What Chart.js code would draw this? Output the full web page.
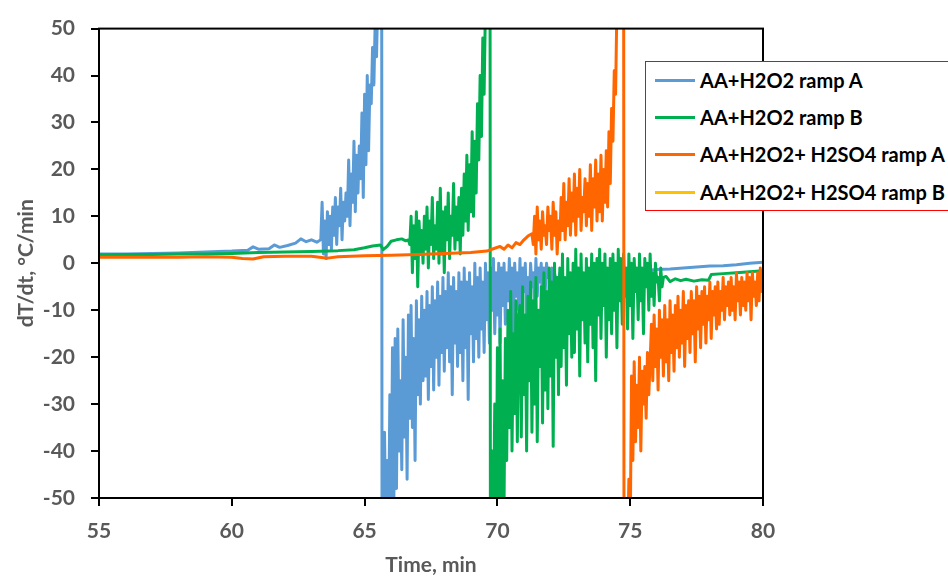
<!DOCTYPE html>
<html>
<head>
<meta charset="utf-8">
<script src="https://cdn.jsdelivr.net/npm/chart.js@4"></script>
<style>
html, body { margin: 0; padding: 0; background: #fff; overflow: hidden; }
#wrap { position: relative; width: 948px; height: 579px; overflow: hidden; }
#legend { position: absolute; left: 645px; top: 61px; width: 330px; height: 148px; border: 1px solid #ff0000; background: #fff; font: bold 20px Lato, sans-serif; color: #000; }
.item { position: absolute; left: 0; height: 24px; line-height: 24px; white-space: nowrap; }
.swatch { position: absolute; left: 9px; top: 10.5px; width: 40px; height: 3px; }
.txt { position: absolute; left: 54px; top: 0; }
</style>
</head>
<body>
<div id="wrap">
  <canvas id="chart" width="948" height="579"></canvas>
  <div id="legend"></div>
</div>
<script>
// sampling interval of the logged noisy parts, min
const TIME_STEP = 0.05;

const seriesNames = ['AA+H2O2 ramp A', 'AA+H2O2 ramp B', 'AA+H2O2+ H2SO4 ramp A', 'AA+H2O2+ H2SO4 ramp B'];
const seriesColors = ['#5B9BD5', '#00B050', '#FF6600', '#FFC000'];
const xTicks = [55, 60, 65, 70, 75, 80];
const yTicks = [-50, -40, -30, -20, -10, 0, 10, 20, 30, 40, 50];

// ramp A (blue)
const blueLead = [[55,2.0],[56,2.0],[57,2.1],[58,2.2],[59,2.4],[60,2.6],[60.6,2.8],[60.8,3.5],[61.0,3.0],[61.4,3.1],[61.6,3.9],[61.8,3.4],[62.1,3.8],[62.4,4.3],[62.6,5.2],[62.8,4.6],[63.0,5.0],[63.2,4.5]];
const blueRiseStart = 63.35;
const blueRise = [5,13,2,9,1,11,4,10,3,12, 6,14,4,12,8,16,5,13,9,15, 10,22,8,19,13,26,11,23,15,25, 18,32,14,36,21,40,24,38, 34,46,38,52,44,58];
const blueJump = [[65.58,75],[65.64,95],[65.66,-95]];
const blueFallStart = 65.70;
const blueFall = [-60,-36,-58,-42,-62,-28,-55,-18,-52,-16,-48,
  -14,-40,-25,-44,-12,-37,-20,-46,-11,-33,
  -9,-35,-16,-42,-8,-28,-12,-30,-7,-25,
  -10,-24,-6,-29,-9,-22,-5,-27,-8,-20,
  -4,-26,-7,-19,-3,-23,-6,-18,-2,-21,
  -5,-28,-3,-17,-6,-22,-2,-19,-4,-25,
  -1,-18,-4,-29,-2,-15,-5,-21,0,-16,
  -3,-20,-1,-14,-4,-19,0,-12,-2,-17,
  -1,-10,1,-15,-2,-11,0,-17,-1,-9,
  0,-13,-2,-8,1,-12,-1,-16,0,-7,
  -2,-10,1,-13,-1,-6,0,-12,-3,-8,
  0,-5,-2,-10,1,-7,-1,-4,0,-9,
  -1,-6,0,-3,-2,-8,-1,-5,-2,-4,
  -3,-5,-2,-4];
const blueTail = [[72.6,-3.3],[72.9,-3.7],[73.2,-3.1],[73.5,-2.9],[73.8,-3.2],[74.1,-2.4],[74.5,-2.2],[75,-2.0],[75.5,-1.6],[76,-1.3],[76.5,-1.2],[77,-1.0],[77.5,-0.8],[78,-0.6],[78.5,-0.5],[79,-0.3],[79.5,0.0],[80,0.2]];

// ramp B (green)
const greenLead = [[55,1.8],[56,1.9],[57,1.9],[58,2.0],[59,2.0],[60,2.1],[61,2.3],[62,2.4],[63,2.5],[64,2.7],[64.6,2.9],[65.0,3.3],[65.3,3.7],[65.6,3.9],[65.7,2.9],[65.85,3.6],[66.0,4.7],[66.2,5.0],[66.4,5.2],[66.55,4.8],[66.65,5.0]];
const greenRiseStart = 66.70;
const greenRise = [4,10,-2,8,1,11,-5,9,2,7, 0,10,3,12,-1,9,4,14,1,8, 3,13,0,16,2,11,-2,12,5,15, 1,10,6,17,3,12,5,14,2,16, 6,19,9,23,7,21,11,28,10,26, 15,34,22,40,27,48,36,55];
const greenJump = [[69.62,75],[69.72,95],[69.74,-95]];
const greenFallStart = 69.75;
const greenFall = [-60,-40,-58,-30,-62,-18,-55,-14,-60,-25,-52,-16,
  -42,-10,-35,-6,-40,-15,-32,-8,-38,-12,
  -9,-37,-5,-28,-11,-40,-7,-25,-4,-36,
  -8,-30,-3,-38,-10,-22,-5,-34,-2,-27,
  -6,-31,-1,-24,-4,-39,0,-20,-3,-28,
  -1,-22,2,-18,-3,-26,1,-15,-2,-20,
  0,-19,3,-14,-1,-24,2,-12,-2,-17,
  1,-21,-1,-13,2,-18,0,-25,1,-11,
  3,-16,0,-9,2,-20,-1,-12,1,-15,
  2,-10,0,-18,3,-8,1,-13,2,-7,
  -1,-14,2,-9,0,-16,1,-6,-1,-12,
  2,-8,-1,-15,1,-5,0,-10,2,-7,
  -2,-9,0,-4,-3,-8,-1,-5,-3];
const greenTail = [[76.35,-2.8],[76.5,-3.9],[76.7,-3.3],[76.9,-3.7],[77.1,-3.4],[77.4,-3.8],[77.7,-3.5],[77.95,-3.6],[78.05,-2.4],[78.5,-2.2],[79,-2.0],[79.5,-1.8],[80,-1.6]];

// H2SO4 ramp A (orange)
const orangeLead = [[55,1.3],[56,1.3],[57,1.3],[58,1.3],[59,1.4],[60,1.3],[60.4,1.0],[60.8,0.9],[61.2,1.4],[62,1.5],[63,1.5],[63.6,1.1],[64,1.4],[65,1.6],[66,1.7],[67,1.9],[68,2.1],[69,2.3],[69.6,2.6],[69.9,3.2],[70.1,3.6],[70.25,3.0],[70.4,3.9],[70.55,3.3],[70.7,4.4],[70.85,4.0],[71.0,5.0],[71.15,5.8],[71.3,6.3]];
const orangeRiseStart = 71.35;
const orangeRise = [4,10,2,12,5,9,3,11,6,8, 4,12,7,10,3,13,6,11,2,9, 5,14,7,17,5,13,8,18,6,15, 9,19,6,16,10,20,7,14,11,18, 8,17,10,21,7,18,12,22,9,19, 11,23,9,20,13,24,12,28,17,33, 26,41,36,55];
const orangeJump = [[74.6,75],[74.75,95],[74.77,-95]];
const orangeFallStart = 74.80;
const orangeFall = [-60,-52,-62,-46,-58,
  -24,-42,-21,-38,-26,-35,-20,-40,-23,-30,
  -22,-33,-19,-28,-21,
  -13,-25,-11,-22,-14,-27,-10,-20,-12,-24,
  -9,-21,-12,-25,-8,-19,-11,-23,-9,-18,
  -7,-20,-10,-17,-6,-22,-9,-16,-8,-19,
  -6,-15,-8,-21,-5,-14,-7,-18,-6,-13,
  -5,-17,-7,-12,-4,-16,-6,-11,-5,-14,
  -4,-13,-6,-10,-3,-12,-5,-9,-4,-11,
  -3,-10,-5,-12,-2,-8,-4,-11,-3,-9,
  -4,-10,-2,-8,-3,-12,-2,-7,-4,-9,
  -2,-8,-1,-6,-3];

// H2SO4 ramp B (yellow) - nothing visible in this window
const yellowPoints = [];

function pairs(list) {
    return list.map(p => ({x: p[0], y: p[1]}));
}
function sampled(t0, values) {
    return values.map((v, i) => ({x: +(t0 + i * TIME_STEP).toFixed(2), y: v}));
}

var blueData = pairs(blueLead).concat(sampled(blueRiseStart, blueRise), pairs(blueJump), sampled(blueFallStart, blueFall), pairs(blueTail));
var greenData = pairs(greenLead).concat(sampled(greenRiseStart, greenRise), pairs(greenJump), sampled(greenFallStart, greenFall), pairs(greenTail));
var orangeData = pairs(orangeLead).concat(sampled(orangeRiseStart, orangeRise), pairs(orangeJump), sampled(orangeFallStart, orangeFall));
var yellowData = pairs(yellowPoints);

var allData = [blueData, greenData, orangeData, yellowData];
var datasets = allData.map((d, i) => ({
    label: seriesNames[i],
    data: d,
    borderColor: seriesColors[i],
    backgroundColor: seriesColors[i],
    borderWidth: 3,
    pointRadius: 0,
    tension: 0,
    fill: false,
    borderJoinStyle: 'round',
    order: 4 - i
}));

const TEXT_GREY = '#595959';
const tickFont = {family: 'Lato', size: 21, weight: 'bold'};

// top and right edges of the plot box
const frame = {
    id: 'frame',
    afterDatasetsDraw(chart) {
        const a = chart.chartArea;
        const ctx = chart.ctx;
        ctx.save();
        ctx.strokeStyle = '#000';
        ctx.lineWidth = 2;
        ctx.strokeRect(a.left, a.top, a.right - a.left, a.bottom - a.top);
        ctx.restore();
    }
};

var ctx = document.getElementById('chart').getContext('2d');
let chart = new Chart(ctx, {
    type: 'line',
    data: {datasets: datasets},
    plugins: [frame],
    options: {
        responsive: false,
        animation: false,
        devicePixelRatio: 1,
        layout: {padding: {left: 0, right: 185, top: 21, bottom: 0}},
        plugins: {legend: {display: false}, tooltip: {enabled: false}},
        scales: {
            x: {
                type: 'linear',
                min: xTicks[0],
                max: xTicks[xTicks.length - 1],
                afterFit: s => { s.height = 81; },
                afterBuildTicks: s => { s.ticks = xTicks.map(v => ({value: v})); },
                ticks: {color: TEXT_GREY, font: tickFont, padding: 13, maxRotation: 0},
                grid: {drawOnChartArea: false, drawTicks: true, tickLength: 8, color: '#000', lineWidth: 2},
                border: {display: true, color: '#000', width: 2},
                title: {display: true, text: 'Time, min', color: TEXT_GREY, font: tickFont, padding: {top: 0, bottom: 1}}
            },
            y: {
                type: 'linear',
                min: yTicks[0],
                max: yTicks[yTicks.length - 1],
                afterFit: s => { s.width = 99; },
                afterBuildTicks: s => { s.ticks = yTicks.map(v => ({value: v})); },
                ticks: {color: TEXT_GREY, font: tickFont, padding: 16},
                grid: {drawOnChartArea: false, drawTicks: true, tickLength: 8, color: '#000', lineWidth: 2},
                border: {display: true, color: '#000', width: 2},
                title: {display: true, text: 'dT/dt, °C/min', color: TEXT_GREY, font: tickFont, padding: {top: 14, bottom: 0}}
            }
        }
    }
});

// legend box, built from the datasets
var legend = document.getElementById('legend');
var rowCentres = [18, 55, 92, 130];
datasets.forEach((ds, i) => {
    var item = document.createElement('div');
    item.className = 'item';
    item.style.top = (rowCentres[i] - 12) + 'px';
    item.innerHTML = '<span class="swatch" style="background:' + ds.borderColor + '"></span><span class="txt"></span>';
    item.querySelector('.txt').textContent = ds.label;
    legend.appendChild(item);
});
</script>
</body>
</html>
